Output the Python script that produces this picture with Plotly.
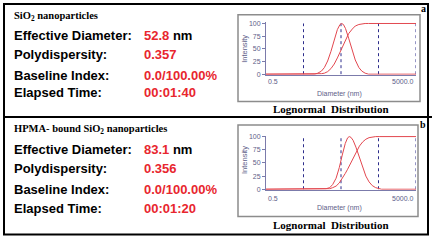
import math
import plotly.graph_objects as go

W, H = 432, 241

# ---------------- data ----------------
row_labels = ["Effective Diameter:", "Polydispersity:", "Baseline Index:", "Elapsed Time:"]
values_a = ["52.8", "0.357", "0.0/100.00%", "00:01:40"]
units_a = [" nm", "", "", ""]
values_b = ["83.1", "0.356", "0.0/100.00%", "00:01:20"]
units_b = [" nm", "", "", ""]
title_a = "SiO<sub>2</sub> nanoparticles"
title_b = "HPMA- bound SiO<sub>2</sub> nanoparticles"

# sample a: lognormal intensity distribution (diameter nm, intensity %)
diam_a = [0.5, 10, 12, 15, 18, 22, 27, 33, 40, 47, 52, 58, 66, 80, 100, 120, 150, 180, 220, 270, 5000]
dist_a = [0, 0, 2, 6, 13, 26, 45, 68, 88, 98, 100, 98, 90, 71, 46, 28, 13, 6, 2, 0, 0]
cum_a = [0, 0, 0.3, 1, 2, 5, 11, 20, 32, 43, 50, 58, 68, 80, 89, 95, 98, 99.5, 100, 100, 100]

# sample b
diam_b = [0.5, 14, 17, 20, 25, 30, 37, 45, 54, 65, 75, 83, 92, 105, 125, 155, 190, 230, 280, 340, 420, 520, 600, 5000]
dist_b = [0, 0, 0, 1, 3, 9, 21, 41, 65, 87, 97.6, 100, 98.6, 93, 80, 59, 40, 25, 14, 7, 3, 1, 0, 0]
cum_b = [0, 0, 0, 0.5, 1, 3, 6, 12, 20, 30, 38, 44, 51, 60, 71, 82, 90, 95, 98, 99.5, 100, 100, 100, 100]

y_ticks = [0, 25, 50, 75, 100]
decade_lines = [5, 50, 500, 5000]
x_label_min, x_label_max = "0.5", "5000.0"

# ---------------- style ----------------
RED_TXT = "#e8262e"
RED_LINE = "#e2474f"
AX = "#7b7bab"
AXTXT = "#5e5e88"
NAVY = "#2d2d8c"
SANS = "Liberation Sans, Arial, sans-serif"
SERIF = "Liberation Serif, Times New Roman, serif"


def px(x):
    return x / W


def py(y):
    return 1 - y / H


fig = go.Figure()

for xa, ya in (("x", "y"), ("x2", "y2")):
    vx, vy = [], []
    for d in decade_lines:
        vx += [d, d, None]
        vy += [0, 100, None]
    fig.add_trace(go.Scatter(x=vx, y=vy, mode="lines", line=dict(color=NAVY, width=1, dash="dot"),
                             xaxis=xa, yaxis=ya, showlegend=False, hoverinfo="skip"))

fig.add_trace(go.Scatter(x=diam_a, y=dist_a, mode="lines", line=dict(color=RED_LINE, width=1),
                         xaxis="x", yaxis="y", showlegend=False, hoverinfo="skip"))
fig.add_trace(go.Scatter(x=diam_a, y=cum_a, mode="lines", line=dict(color=RED_LINE, width=1),
                         xaxis="x", yaxis="y", showlegend=False, hoverinfo="skip"))
fig.add_trace(go.Scatter(x=diam_b, y=dist_b, mode="lines", line=dict(color=RED_LINE, width=1),
                         xaxis="x2", yaxis="y2", showlegend=False, hoverinfo="skip"))
fig.add_trace(go.Scatter(x=diam_b, y=cum_b, mode="lines", line=dict(color=RED_LINE, width=1),
                         xaxis="x2", yaxis="y2", showlegend=False, hoverinfo="skip"))

xr = [math.log10(0.5), math.log10(5000)]
yr = [-1, 102]


def xaxis_cfg(anchor):
    return dict(type="log", range=xr, domain=[px(266), px(416)], anchor=anchor,
                showline=True, linecolor=AX, linewidth=1, ticks="", showticklabels=False,
                showgrid=False, zeroline=False, layer="below traces", fixedrange=True)


def yaxis_cfg(anchor, y0pix, y100pix):
    scale = (y0pix - y100pix) / 100.0
    bot = y0pix - (yr[0] - 0) * scale
    top = y0pix - (yr[1] - 0) * scale
    return dict(range=yr, domain=[py(bot), py(top)], anchor=anchor,
                tickvals=y_ticks, ticks="outside", ticklen=3, tickcolor=AX, tickwidth=1,
                showline=True, linecolor=AX, linewidth=1, showgrid=False, zeroline=False,
                tickfont=dict(family=SANS, size=7, color=AXTXT), layer="below traces",
                fixedrange=True)


shapes = []
annotations = []

# outer frame
shapes.append(dict(type="rect", xref="paper", yref="paper", x0=px(4), x1=px(428), y0=py(1), y1=py(237.5),
                   line=dict(color="black", width=2)))
shapes.append(dict(type="line", xref="paper", yref="paper", x0=px(4), x1=px(432), y0=py(117), y1=py(117),
                   line=dict(color="black", width=2)))

panels = [
    dict(title=title_a, values=values_a, units=units_a, x="x", y="y", tag="a",
         title_y=14, rows_y=[33, 53, 74, 92], box=(238, 12, 420, 101), y0=73, y100=21,
         lbl_y=81, dia_y=93, int_y=47, cap_y=109, tag_y=6),
    dict(title=title_b, values=values_b, units=units_b, x="x2", y="y2", tag="b",
         title_y=129.5, rows_y=[150, 170, 191, 211], box=(238, 125, 418, 219), y0=191, y100=137,
         lbl_y=200, dia_y=210, int_y=161, cap_y=228, tag_y=125),
]

for p in panels:
    annotations.append(dict(text=p["title"], xref="paper", yref="paper", x=px(12), y=py(p["title_y"]),
                            xanchor="left", yanchor="middle", showarrow=False,
                            font=dict(family=SERIF, size=10.5, color="black", weight="bold")))
    for lab, val, unit, yy in zip(row_labels, p["values"], p["units"], p["rows_y"]):
        annotations.append(dict(text=lab, xref="paper", yref="paper", x=px(12), y=py(yy),
                                xanchor="left", yanchor="middle", showarrow=False,
                                font=dict(family=SANS, size=13, color="black", weight="bold")))
        annotations.append(dict(text=f"<span style='color:{RED_TXT}'>{val}</span>{unit}",
                                xref="paper", yref="paper", x=px(142), y=py(yy),
                                xanchor="left", yanchor="middle", showarrow=False,
                                font=dict(family=SANS, size=13, color="black", weight="bold")))
    bx0, by0, bx1, by1 = p["box"]
    shapes.append(dict(type="rect", xref="paper", yref="paper", x0=px(bx0), x1=px(bx1), y0=py(by0), y1=py(by1),
                       line=dict(color="#8c8c8c", width=1.5)))
    annotations.append(dict(text=x_label_min, xref=p["x"], yref="paper", x=math.log10(0.5), y=py(p["lbl_y"]),
                            xanchor="left", yanchor="middle", showarrow=False,
                            font=dict(family=SANS, size=7, color=AXTXT)))
    annotations.append(dict(text=x_label_max, xref=p["x"], yref="paper", x=math.log10(5000), y=py(p["lbl_y"]),
                            xanchor="right", yanchor="middle", showarrow=False,
                            font=dict(family=SANS, size=7, color=AXTXT)))
    annotations.append(dict(text="Diameter (nm)", xref="paper", yref="paper", x=px(339), y=py(p["dia_y"]),
                            xanchor="center", yanchor="middle", showarrow=False,
                            font=dict(family=SANS, size=7, color=AXTXT)))
    annotations.append(dict(text="Intensity", xref="paper", yref="paper", x=px(245), y=py(p["int_y"]),
                            xanchor="center", yanchor="middle", showarrow=False, textangle=-90,
                            font=dict(family=SANS, size=7.5, color=AXTXT)))
    annotations.append(dict(text="Lognormal\u00a0 Distribution", xref="paper", yref="paper",
                            x=px(331), y=py(p["cap_y"]), xanchor="center", yanchor="middle", showarrow=False,
                            font=dict(family=SERIF, size=11, color="black", weight="bold")))
    annotations.append(dict(text=p["tag"], xref="paper", yref="paper", x=px(423), y=py(p["tag_y"]),
                            xanchor="center", yanchor="middle", showarrow=False,
                            font=dict(family=SERIF, size=10, color="black", weight="bold")))

fig.update_layout(
    width=W, height=H, margin=dict(l=0, r=0, t=0, b=0),
    paper_bgcolor="white", plot_bgcolor="rgba(0,0,0,0)",
    xaxis=xaxis_cfg("y"), yaxis=yaxis_cfg("x", 73, 21),
    xaxis2=xaxis_cfg("y2"), yaxis2=yaxis_cfg("x2", 191, 137),
    shapes=shapes, annotations=annotations, showlegend=False,
)

fig.write_html("out.html", config={"displayModeBar": False},
               post_script="document.body.style.margin='0';document.body.style.overflow='hidden';")
